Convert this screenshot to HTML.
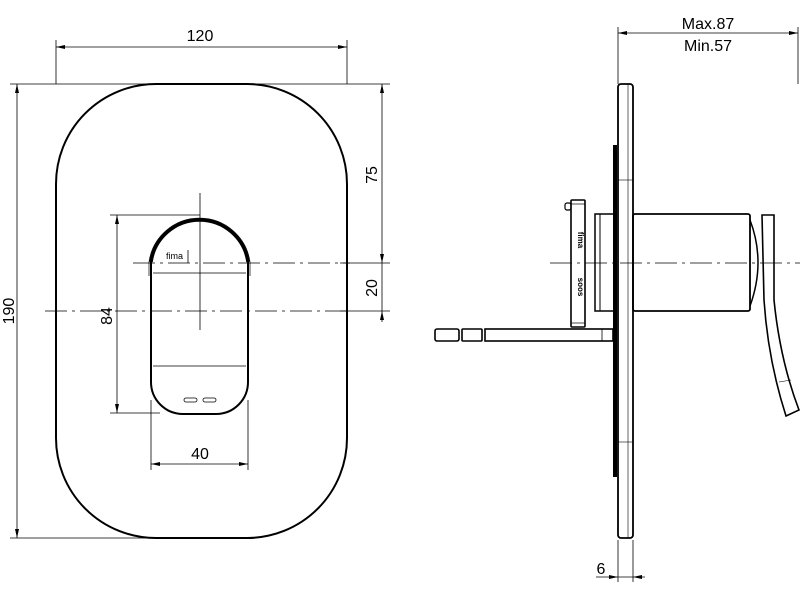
<!DOCTYPE html>
<html><head><style>body{margin:0;background:#fff}svg{display:block}text{font-family:"Liberation Sans",sans-serif;fill:#000}</style></head><body>
<svg width="800" height="600" viewBox="0 0 800 600" fill="none" stroke="#000">
<!-- front view plate -->
<rect x="56" y="84" width="291" height="454" rx="100" ry="100" stroke-width="2"/>
<!-- dimension 120 -->
<g stroke-width="0.8">
<line x1="56" y1="84" x2="56" y2="40"/><line x1="347" y1="84" x2="347" y2="40"/>
<line x1="56" y1="47" x2="347" y2="47"/>
<line x1="10" y1="84" x2="250" y2="84"/><line x1="10" y1="538" x2="250" y2="538"/>
<line x1="17" y1="84" x2="17" y2="538"/>
<line x1="250" y1="84" x2="390" y2="84"/>
<line x1="382" y1="84" x2="382" y2="322"/>
<line x1="340" y1="263" x2="390" y2="263"/>
<line x1="340" y1="311" x2="390" y2="311"/>
<line x1="110" y1="215" x2="200" y2="215"/><line x1="110" y1="413" x2="160" y2="413"/>
<line x1="117" y1="215" x2="117" y2="413"/>
<line x1="151" y1="400" x2="151" y2="470"/><line x1="248" y1="400" x2="248" y2="470"/>
<line x1="151" y1="464" x2="248" y2="464"/>
<line x1="200" y1="193" x2="200" y2="330"/>
<line x1="133" y1="263" x2="350" y2="263" stroke-dasharray="22,5,3,5"/>
<line x1="45" y1="311" x2="350" y2="311" stroke-dasharray="22,5,3,5"/>
<line x1="550" y1="263" x2="800" y2="263" stroke-dasharray="22,5,3,5"/>
</g>
<g fill="#000" stroke="none">
<path d="M56 47l9-2v4zM347 47l-9-2v4zM17 84l-2 9h4zM17 538l-2-9h4zM382 84l-2 9h4zM382 263l-2-9h4zM382 311l-2 9h4zM117 215l-2 9h4zM117 413l-2-9h4zM151 464l9-2v4zM248 464l-9-2v4z"/>
<path d="M618 33l9-2v4zM798 33l-9-2v4zM618 577l-9-2v4zM633 577l9-2v4z"/>
</g>
<text x="200" y="41" font-size="16" text-anchor="middle" stroke="none">120</text>
<text x="14" y="311" font-size="16" text-anchor="middle" transform="rotate(-90 14 311)" stroke="none">190</text>
<text x="377" y="175" font-size="16" text-anchor="middle" transform="rotate(-90 377 175)" stroke="none">75</text>
<text x="377" y="288" font-size="16" text-anchor="middle" transform="rotate(-90 377 288)" stroke="none">20</text>
<text x="112" y="316" font-size="16" text-anchor="middle" transform="rotate(-90 112 316)" stroke="none">84</text>
<text x="200" y="459" font-size="16" text-anchor="middle" stroke="none">40</text>
<!-- handle -->
<path d="M151 262 A49 49 0 0 1 248 262 L248 382 A32 32 0 0 1 216 414 L183 414 A32 32 0 0 1 151 382 Z" stroke-width="2"/>
<path d="M149 276 L149 262 A51 51 0 0 1 250 262 L250 276" stroke-width="0.7"/>
<path d="M151 262 A49 49 0 0 1 248 262" stroke-width="3.5"/>
<line x1="153" y1="273" x2="246" y2="273" stroke-width="0.8"/>
<line x1="153" y1="366" x2="246" y2="366" stroke-width="0.8"/>
<rect x="184" y="398" width="13" height="4" rx="2" stroke-width="0.8"/>
<rect x="203" y="398" width="13" height="4" rx="2" stroke-width="0.8"/>
<text x="166" y="259" font-size="9" stroke="none">fima</text>
<line x1="188" y1="250" x2="188" y2="263" stroke-width="0.8"/>
<!-- side view -->
<rect x="618" y="84" width="15" height="454" rx="3" stroke-width="1.8"/>
<line x1="628" y1="84" x2="628" y2="538" stroke-width="0.6"/>
<line x1="618" y1="180" x2="633" y2="180" stroke-width="0.6"/>
<line x1="618" y1="442" x2="633" y2="442" stroke-width="0.6"/>
<rect x="613" y="145" width="4" height="332" fill="#000" stroke="none"/>
<g stroke-width="0.8">
<line x1="618" y1="84" x2="618" y2="27"/><line x1="798" y1="84" x2="798" y2="27"/>
<line x1="618" y1="33" x2="798" y2="33"/>
<line x1="618" y1="540" x2="618" y2="582"/><line x1="633" y1="540" x2="633" y2="582"/>
<line x1="596" y1="577" x2="645" y2="577"/>
</g>
<text x="708" y="29" font-size="16" text-anchor="middle" stroke="none">Max.87</text>
<text x="708" y="51" font-size="16" text-anchor="middle" stroke="none">Min.57</text>
<text x="601" y="574" font-size="16" text-anchor="middle" stroke="none">6</text>
<rect x="633" y="214" width="117" height="97" rx="2" stroke-width="1.8"/>
<path d="M750 220 Q766 262 750 306" stroke-width="1.5"/>
<rect x="595" y="214" width="19" height="97" stroke-width="1.5"/>
<line x1="600" y1="214" x2="600" y2="311" stroke-width="1"/>
<rect x="571" y="200" width="14" height="127" rx="1" stroke-width="1.6"/>
<line x1="571" y1="204" x2="585" y2="204" stroke-width="0.7"/><line x1="571" y1="323" x2="585" y2="323" stroke-width="0.7"/>
<rect x="565" y="203" width="6" height="7" rx="2" stroke-width="1.2"/>
<text x="578" y="240" font-size="8" font-weight="bold" transform="rotate(90 578 240)" text-anchor="middle" stroke="none">fima</text>
<text x="578" y="287" font-size="8" font-weight="bold" transform="rotate(90 578 287)" text-anchor="middle" stroke="none">soos</text>
<g stroke-width="1.6">
<rect x="435" y="329" width="24" height="12" rx="2"/>
<rect x="462" y="329" width="20" height="12" rx="1"/>
<rect x="485" y="329" width="128" height="12"/>
</g>
<line x1="602" y1="329" x2="602" y2="341" stroke-width="0.8"/>
<path d="M762 215 L774 215 L774 300 Q780 360 799 410 L786 416 Q768 360 764 300 Z" stroke-width="1.6"/>
<line x1="779" y1="382" x2="791" y2="380" stroke-width="0.6"/>
</svg>
</body></html>
